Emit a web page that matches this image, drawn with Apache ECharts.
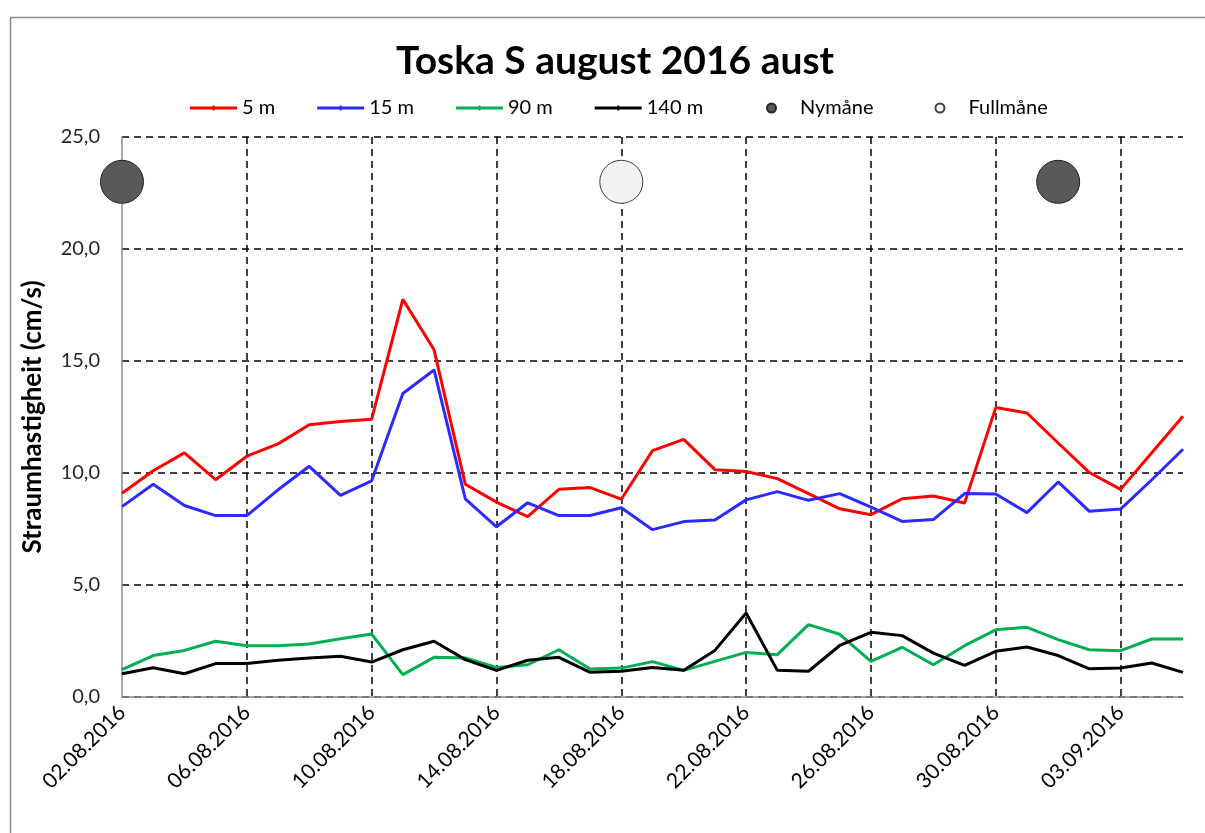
<!DOCTYPE html>
<html>
<head>
<meta charset="utf-8">
<title>Toska S august 2016 aust</title>
<script src="https://cdn.jsdelivr.net/npm/echarts@6/dist/echarts.min.js"></script>
<style>
  html, body { margin: 0; padding: 0; background: #fff; }
  #chart { width: 1205px; height: 833px; }
</style>
</head>
<body>
<div id="chart"></div>
<script>
// dates, one per day
const dates = [
  '02.08.2016', '03.08.2016', '04.08.2016', '05.08.2016', '06.08.2016', '07.08.2016', '08.08.2016',
  '09.08.2016', '10.08.2016', '11.08.2016', '12.08.2016', '13.08.2016', '14.08.2016', '15.08.2016',
  '16.08.2016', '17.08.2016', '18.08.2016', '19.08.2016', '20.08.2016', '21.08.2016', '22.08.2016',
  '23.08.2016', '24.08.2016', '25.08.2016', '26.08.2016', '27.08.2016', '28.08.2016', '29.08.2016',
  '30.08.2016', '31.08.2016', '01.09.2016', '02.09.2016', '03.09.2016', '04.09.2016', '05.09.2016',
];

// current speed (cm/s) per depth
const speed5m = [9.1, 10.1, 10.9, 9.7, 10.75, 11.3, 12.15, 12.3, 12.4, 17.75, 15.5, 9.5, 8.7, 8.05, 9.27, 9.35, 8.83, 11.0,
  11.5, 10.15, 10.07, 9.75, 9.08, 8.4, 8.14, 8.85, 8.97, 8.66, 12.92, 12.68, 11.34, 10.02, 9.27, 10.9, 12.53];
const speed15m = [8.5, 9.5, 8.55, 8.1, 8.1, 9.25, 10.3, 9.0, 9.65, 13.55, 14.6, 8.85, 7.6, 8.67, 8.1, 8.1, 8.45, 7.47,
  7.83, 7.9, 8.8, 9.17, 8.78, 9.08, 8.48, 7.84, 7.92, 9.08, 9.06, 8.23, 9.6, 8.29, 8.39, 9.7, 11.06];
const speed90m = [1.22, 1.85, 2.08, 2.49, 2.29, 2.29, 2.37, 2.6, 2.81, 1.0, 1.77, 1.74, 1.32, 1.44, 2.11, 1.25, 1.29, 1.58,
  1.19, 1.59, 1.99, 1.89, 3.23, 2.8, 1.59, 2.22, 1.44, 2.29, 3.0, 3.11, 2.56, 2.11, 2.07, 2.59, 2.59];
const speed140m = [1.04, 1.31, 1.04, 1.49, 1.5, 1.64, 1.74, 1.82, 1.56, 2.11, 2.49, 1.67, 1.19, 1.64, 1.77, 1.1, 1.15, 1.32,
  1.19, 2.08, 3.75, 1.19, 1.15, 2.3, 2.89, 2.74, 1.96, 1.41, 2.04, 2.23, 1.85, 1.26, 1.29, 1.52, 1.1];

// moon phases, drawn as big dots near the top
const newMoonDates = ['02.08.2016', '01.09.2016'];
const fullMoonDates = ['18.08.2016'];
const moonLevel = 23;

const yTicks = { min: 0, max: 25, interval: 5 };

const font = 'Lato, "Open Sans", sans-serif';
const dash = { color: '#000', width: 1.5, type: [7, 5] };
// excel style legend key: thick line with a small tick in the middle
const lineKey = 'path://M0,4.5L47,4.5L47,7.5L0,7.5Z M22.5,3.5L24.5,3.5L24.5,8.5L22.5,8.5Z';

const chart = echarts.init(document.getElementById('chart'));

chart.setOption({
  animation: false,
  backgroundColor: '#fff',
  graphic: [{
    type: 'rect',
    left: 8,
    top: 15,
    shape: { width: 1220, height: 840 },
    style: { fill: 'none', stroke: '#8c8c8c', lineWidth: 1.5 },
    z: -1,
  }],
  title: {
    text: 'Toska S august 2016 aust',
    left: 391,
    top: 37,
    textStyle: { fontFamily: font, fontSize: 39, fontWeight: 'bold', color: '#000' },
  },
  // two legends so the moon keys sit where excel put them
  legend: [
    {
      left: 185,
      top: 93,
      itemWidth: 47,
      itemHeight: 10,
      itemGap: 42,
      textStyle: { fontFamily: font, fontSize: 20, color: '#000' },
      data: [
        { name: '5 m', icon: lineKey },
        { name: '15 m', icon: lineKey },
        { name: '90 m', icon: lineKey },
        { name: '140 m', icon: lineKey },
      ],
    },
    {
      left: 761,
      top: 93,
      itemWidth: 47,
      itemHeight: 9,
      itemGap: 61,
      textStyle: { fontFamily: font, fontSize: 20, color: '#000' },
      data: [
        { name: 'Nymåne', icon: 'circle' },
        { name: 'Fullmåne', icon: 'circle' },
      ],
    },
  ],
  grid: {
    left: 122,
    right: 22,
    top: 137,
    bottom: 136,
  },
  xAxis: {
    type: 'category',
    data: dates,
    boundaryGap: false,
    axisLine: { lineStyle: { color: '#8c8c8c', width: 1.5 } },
    axisTick: { show: false },
    axisLabel: {
      interval: 3,
      rotate: 45,
      margin: 12,
      fontFamily: font,
      fontSize: 21,
      color: '#000',
    },
    splitLine: {
      show: true,
      interval: (idx) => idx > 0 && idx % 4 === 0,
      lineStyle: dash,
    },
  },
  yAxis: {
    type: 'value',
    min: yTicks.min,
    max: yTicks.max,
    interval: yTicks.interval,
    name: 'Straumhastigheit (cm/s)',
    nameLocation: 'middle',
    nameGap: 76,
    nameTextStyle: { fontFamily: font, fontSize: 26, fontWeight: 'bold', color: '#000' },
    axisLine: { show: true, lineStyle: { color: '#8c8c8c', width: 1.5 } },
    axisTick: { show: false },
    axisLabel: {
      margin: 22,
      fontFamily: font,
      fontSize: 20,
      color: '#262626',
      formatter: (v) => v.toFixed(1).replace('.', ','),
    },
    splitLine: { show: true, lineStyle: dash },
  },
  series: [
    {
      name: '5 m',
      type: 'line',
      data: speed5m,
      symbol: 'none',
      color: '#ff0000',
      lineStyle: { width: 3 },
    },
    {
      name: '15 m',
      type: 'line',
      data: speed15m,
      symbol: 'none',
      color: '#2b2bff',
      lineStyle: { width: 3 },
    },
    {
      name: '90 m',
      type: 'line',
      data: speed90m,
      symbol: 'none',
      color: '#00b050',
      lineStyle: { width: 3 },
    },
    {
      name: '140 m',
      type: 'line',
      data: speed140m,
      symbol: 'none',
      color: '#000000',
      lineStyle: { width: 3 },
    },
    {
      name: 'Nymåne',
      type: 'scatter',
      data: newMoonDates.map((d) => [d, moonLevel]),
      symbol: 'circle',
      symbolSize: 43,
      itemStyle: { color: '#595959', borderColor: '#262626', borderWidth: 1, opacity: 1 },
      z: 5,
    },
    {
      name: 'Fullmåne',
      type: 'scatter',
      data: fullMoonDates.map((d) => [d, moonLevel]),
      symbol: 'circle',
      symbolSize: 43,
      itemStyle: { color: '#f2f2f2', borderColor: '#404040', borderWidth: 1, opacity: 1 },
      z: 5,
    },
  ],
});
</script>
</body>
</html>
